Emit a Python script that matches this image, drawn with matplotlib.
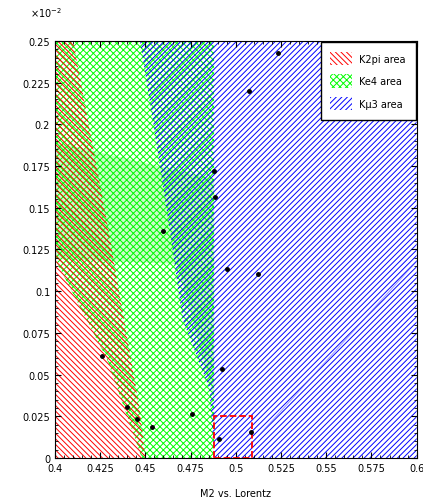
import matplotlib
matplotlib.use("Agg")
import matplotlib.pyplot as plt
from matplotlib.patches import Polygon, Rectangle, Patch
from matplotlib.ticker import AutoMinorLocator

# region outlines (x, y) in data units, y in units of 1e-2
k2pi_x = [0.4, 0.4, 0.41, 0.429, 0.447, 0.45]
k2pi_y = [0.0, 0.25, 0.25, 0.14, 0.028, 0.0]

ke4_x = [0.4, 0.4, 0.488, 0.488, 0.448, 0.4287]
ke4_y = [0.1193, 0.25, 0.25, 0.0, 0.0, 0.0594]

ke4b_x = [0.4, 0.488, 0.488, 0.4678, 0.4]
ke4b_y = [0.1894, 0.1673, 0.0354, 0.1163, 0.1193]

km3_x = [0.447, 0.6, 0.6, 0.488, 0.4854, 0.4705, 0.4634, 0.454]
km3_y = [0.25, 0.25, 0.0, 0.0, 0.0414, 0.0833, 0.1373, 0.2032]

# candidate events
ev_x = [0.4259, 0.4397, 0.4452, 0.4534, 0.4755, 0.4909, 0.4926, 0.4595,
        0.4882, 0.4887, 0.4953, 0.5124, 0.5085, 0.5234, 0.5074]
ev_y = [0.0612, 0.0306, 0.0234, 0.0186, 0.0264, 0.0114, 0.0534, 0.1361,
        0.1721, 0.1565, 0.1133, 0.1103, 0.0156, 0.2428, 0.2200]

# signal box
box_x0, box_x1 = 0.488, 0.509
box_y0, box_y1 = 0.0, 0.025

red_h = '\\' * 6
green_h = 'x' * 5
blue_h = '/' * 6

plt.rcParams['hatch.linewidth'] = 0.7
fig = plt.figure(figsize=(4.23, 5.02), dpi=100)
ax = fig.add_axes([0.130, 0.0857, 0.855, 0.8306])

ax.add_patch(Polygon(list(zip(ke4_x, ke4_y)), closed=True, facecolor='none',
                     edgecolor=(0, 1, 0), hatch=green_h, linewidth=0))
ax.add_patch(Polygon(list(zip(ke4b_x, ke4b_y)), closed=True, facecolor=(0, 0.9, 0, 0.2),
                     edgecolor=(0, 1, 0), linewidth=0))
ax.add_patch(Polygon(list(zip(k2pi_x, k2pi_y)), closed=True, facecolor='none',
                     edgecolor=(1, 0, 0), hatch=red_h, linewidth=0))
ax.add_patch(Polygon(list(zip(km3_x, km3_y)), closed=True, facecolor='none',
                     edgecolor=(0, 0, 1), hatch=blue_h, linewidth=0))
ax.plot([0.509, 0.6], [0.009, 0.118], color=(0.3, 0.3, 1), lw=0.8, alpha=0.5)

ax.add_patch(Rectangle((box_x0, box_y0), box_x1 - box_x0, box_y1 - box_y0,
                       fill=False, edgecolor='red', linestyle='--', linewidth=1.3, zorder=4))
ax.plot(ev_x, ev_y, 'k.', markersize=5, zorder=5)

ax.set_xlim(0.4, 0.6)
ax.set_ylim(0, 0.25)
ax.set_xticks([0.4, 0.425, 0.45, 0.475, 0.5, 0.525, 0.55, 0.575, 0.6])
ax.set_xticklabels(['0.4', '0.425', '0.45', '0.475', '0.5', '0.525', '0.55', '0.575', '0.6'])
ax.set_yticks([0, 0.025, 0.05, 0.075, 0.1, 0.125, 0.15, 0.175, 0.2, 0.225, 0.25])
ax.set_yticklabels(['0', '0.025', '0.05', '0.075', '0.1', '0.125', '0.15', '0.175',
                    '0.2', '0.225', '0.25'])
ax.xaxis.set_minor_locator(AutoMinorLocator(5))
ax.yaxis.set_minor_locator(AutoMinorLocator(5))
ax.tick_params(which='both', direction='in', top=True, right=True, labelsize=7)
ax.tick_params(which='major', length=4)
ax.tick_params(which='minor', length=2)
ax.set_xlabel('M2 vs. Lorentz', fontsize=7, labelpad=11)
fig.text(0.07, 0.965, r'$\times10^{-2}$', fontsize=7)

handles = [Patch(facecolor='white', edgecolor='red', hatch=red_h, linewidth=0, label='K2pi area'),
           Patch(facecolor='white', edgecolor=(0, 1, 0), hatch=green_h, linewidth=0, label='Ke4 area'),
           Patch(facecolor='white', edgecolor='blue', hatch=blue_h, linewidth=0, label='K\u03bc3 area')]
ax.legend(handles=handles, loc='upper right', fontsize=7, handlelength=2.2, handleheight=1.8,
          framealpha=1, fancybox=False, edgecolor='black', borderpad=1.0, labelspacing=0.9,
          borderaxespad=0.1)

fig.savefig('out.png', dpi=100)
